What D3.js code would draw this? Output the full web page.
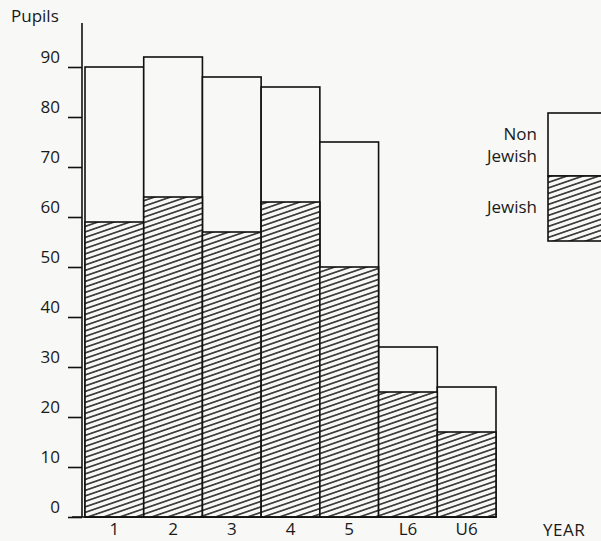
<!DOCTYPE html>
<html>
<head>
<meta charset="utf-8">
<script src="https://cdn.jsdelivr.net/npm/d3@7"></script>
<style>
  html, body { margin: 0; padding: 0; background: #f8f8f6; }
  svg { display: block; }
  text { font-family: "Open Sans", "Lato", sans-serif; fill: #1a1a1a; }
</style>
</head>
<body>
<svg id="chart" width="601" height="541"></svg>
<script>
// ---- data ----
const years = ["1", "2", "3", "4", "5", "L6", "U6"];
const jewish = [59, 64, 57, 63, 50, 25, 17];
const nonJewish = [31, 28, 31, 23, 25, 9, 9];
const yTicks = [0, 10, 20, 30, 40, 50, 60, 70, 80, 90];
const legendLabels = ["Non\nJewish", "Jewish"];

const svg = d3.select("#chart");
const W = 601, H = 541;
svg.append("rect").attr("width", W).attr("height", H).attr("fill", "#f8f8f6");

// hatch pattern
const defs = svg.append("defs");
const pat = defs.append("pattern")
  .attr("id", "hatch")
  .attr("patternUnits", "userSpaceOnUse")
  .attr("width", 20).attr("height", 5.2)
  .attr("patternTransform", "rotate(-19)");
pat.append("rect").attr("width", 20).attr("height", 5.2).attr("fill", "#f8f8f6");
pat.append("line").attr("x1", 0).attr("x2", 20).attr("y1", 2.6).attr("y2", 2.6)
  .attr("stroke", "#111").attr("stroke-width", 1.4);

const axisX = 82;
const x = d3.scaleBand().domain(years).range([85, 496]).paddingInner(0).paddingOuter(0);
const y = d3.scaleLinear().domain([0, 90]).range([517, 67]);

const data = years.map((yr, i) => ({ yr, j: jewish[i], n: nonJewish[i] }));

const g = svg.append("g");

g.selectAll("rect.total").data(data).join("rect")
  .attr("class", "total")
  .attr("x", d => x(d.yr))
  .attr("width", x.bandwidth())
  .attr("y", d => y(d.j + d.n))
  .attr("height", d => y(0) - y(d.j + d.n))
  .attr("fill", "#f8f8f6")
  .attr("stroke", "#111").attr("stroke-width", 1.6);

g.selectAll("rect.jew").data(data).join("rect")
  .attr("class", "jew")
  .attr("x", d => x(d.yr))
  .attr("width", x.bandwidth())
  .attr("y", d => y(d.j))
  .attr("height", d => y(0) - y(d.j))
  .attr("fill", "url(#hatch)")
  .attr("stroke", "#111").attr("stroke-width", 1.6);

// y axis
const yAxis = d3.axisLeft(y).tickValues(yTicks).tickSize(14).tickPadding(8);
const ya = svg.append("g").attr("transform", `translate(${axisX},0)`).call(yAxis);
ya.select(".domain").remove();
ya.selectAll(".tick line").attr("stroke", "#111").attr("stroke-width", 1.6);
ya.selectAll(".tick text").attr("y", -10).style("font-size", "17px").style("font-family", "'Open Sans', sans-serif").attr("fill", "#1a1a1a");
svg.append("line").attr("x1", axisX).attr("x2", axisX).attr("y1", 23).attr("y2", y(0))
  .attr("stroke", "#111").attr("stroke-width", 1.6);

// baseline
svg.append("line").attr("x1", 72).attr("x2", 496).attr("y1", y(0)).attr("y2", y(0))
  .attr("stroke", "#111").attr("stroke-width", 1.7);

// x axis labels
const xAxis = d3.axisBottom(x).tickSize(0).tickPadding(6);
const xa = svg.append("g").attr("transform", `translate(0,${y(0)})`).call(xAxis);
xa.select(".domain").remove();
xa.selectAll(".tick text").style("font-size", "17px").style("font-family", "'Open Sans', sans-serif").attr("fill", "#1a1a1a");

// axis titles
svg.append("text").attr("x", 11).attr("y", 22).style("font-size", "17px").text("Pupils");
svg.append("text").attr("x", 543).attr("y", 536).style("font-size", "17px").attr("letter-spacing", "0.5px").text("YEAR");

// legend
const lg = svg.append("g");
const lx = 548, lw = 54, lTop = 113, lMid = 176, lBot = 241;
lg.append("rect").attr("x", lx).attr("y", lTop).attr("width", lw).attr("height", lMid - lTop)
  .attr("fill", "#f8f8f6").attr("stroke", "#111").attr("stroke-width", 1.6);
lg.append("rect").attr("x", lx).attr("y", lMid).attr("width", lw).attr("height", lBot - lMid)
  .attr("fill", "url(#hatch)").attr("stroke", "#111").attr("stroke-width", 1.6);
const l1 = legendLabels[0].split("\n");
lg.append("text").attr("x", 537).attr("y", 140).attr("text-anchor", "end").style("font-size", "17px").text(l1[0]);
lg.append("text").attr("x", 537).attr("y", 162).attr("text-anchor", "end").style("font-size", "17px").text(l1[1]);
lg.append("text").attr("x", 537).attr("y", 213).attr("text-anchor", "end").style("font-size", "17px").text(legendLabels[1]);
</script>
</body>
</html>
